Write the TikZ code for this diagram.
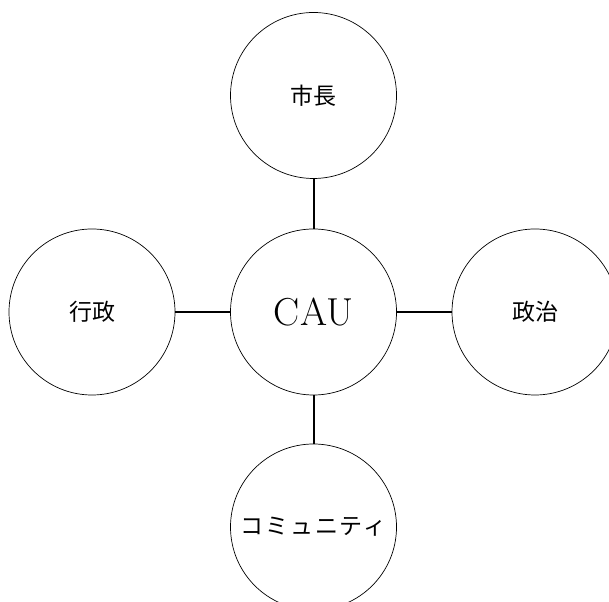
\documentclass[tikz,border=0pt]{standalone}
\usepackage{fontspec}
\newfontfamily\jafont{Noto Sans CJK JP}
\begin{document}
\begin{tikzpicture}
[x=1pt,y=1pt,
topic/.style={circle,draw=black,line width=0.7pt,inner sep=0pt,minimum size=166pt,
  font=\jafont\fontsize{23}{27}\selectfont},
hub/.style={topic,font=\fontsize{39}{44}\selectfont},
link/.style={line width=2pt}]
\useasboundingbox (0,0) rectangle (609,601);
\node (cau) at (313.5,289) [hub] {CAU};
\node (mayor) at (313.5,505.5) [topic] {市長};
\node (admin) at (92,289) [topic] {行政};
\node (politics) at (535,289) [topic] {政治};
\node (community) at (313.5,74) [topic] {\addfontfeature{LetterSpace=8}コミュニティ};
\draw[link] (cau) -- (mayor);
\draw[link] (cau) -- (admin);
\draw[link] (cau) -- (politics);
\draw[link] (cau) -- (community);

\end{tikzpicture}
\end{document}
